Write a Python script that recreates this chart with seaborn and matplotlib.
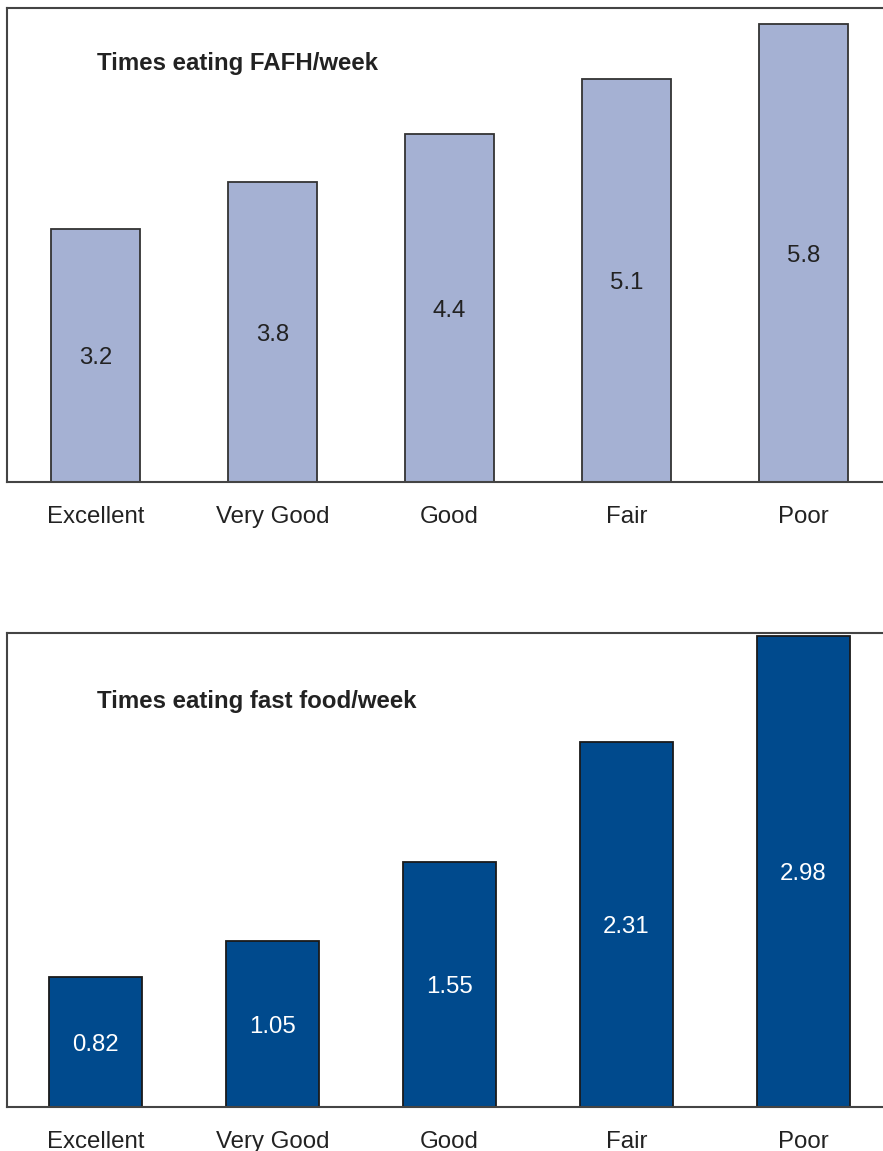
import matplotlib
matplotlib.use("Agg")
import matplotlib.pyplot as plt
import seaborn as sns

# Self-rated health categories and weekly eating-out frequencies
categories = ["Excellent", "Very Good", "Good", "Fair", "Poor"]
fafh_per_week = [3.2, 3.8, 4.4, 5.1, 5.8]
fast_food_per_week = [0.82, 1.05, 1.55, 2.31, 2.98]

sns.set_theme(style="white")
plt.rcParams["font.family"] = ["Liberation Sans", "DejaVu Sans"]

W, H = 883, 1151
FS = 17.3
fig = plt.figure(figsize=(W / 100, H / 100), dpi=100)


def panel(top_px, bottom_px, values, ymax, color, edge, label_color, fmt,
          title, title_y, width):
    ax = fig.add_axes([7 / W, 1 - bottom_px / H, 885 / W, (bottom_px - top_px) / H])
    sns.barplot(x=categories, y=values, color=color, edgecolor=edge,
                linewidth=1.3, width=width, saturation=1, ax=ax)
    ax.set_ylim(0, ymax)
    ax.set_xlim(-0.5, 4.5)
    ax.set_yticks([])
    ax.set_xlabel("")
    ax.set_ylabel("")
    ax.tick_params(axis="x", length=0, pad=17.5, labelsize=FS, labelcolor="#222222")
    for side in ("left", "bottom", "top"):
        ax.spines[side].set_visible(True)
        ax.spines[side].set_color("#444444")
        ax.spines[side].set_linewidth(1.5)
    ax.spines["right"].set_visible(False)
    texts = ax.bar_label(ax.containers[0], fmt=fmt, label_type="center",
                         fontsize=FS, color=label_color)
    for t in texts:
        t.set_y(-2)
    ax.text(90 / 885, title_y, title, transform=ax.transAxes, fontsize=FS,
            fontweight="bold", color="#222222", ha="left", va="center")
    return ax


panel(8, 482, fafh_per_week, 6.0, "#A5B1D3", "#333333", "#222222", "%.1f",
      "Times eating FAFH/week", 0.882, 0.5)
panel(633, 1107, fast_food_per_week, 3.0, "#004A8D", "#1a1a1a", "white", "%.2f",
      "Times eating fast food/week", 0.855, 0.53)

fig.savefig("out.png", dpi=100, facecolor="white")
